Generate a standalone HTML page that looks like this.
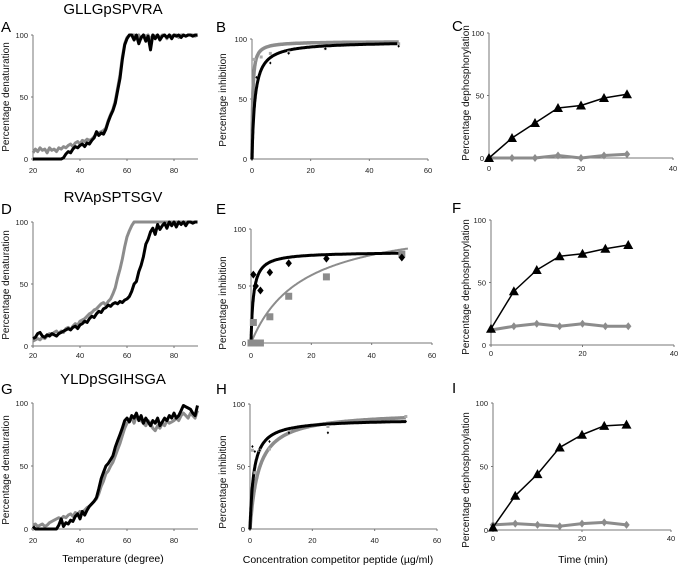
<!DOCTYPE html>
<html><head><meta charset="utf-8">
<style>
html,body{margin:0;padding:0;background:#fff}
svg{display:block;font-family:"Liberation Sans",Arial,sans-serif}
</style></head>
<body>
<svg id="fig" width="680" height="567" viewBox="0 0 680 567" xmlns="http://www.w3.org/2000/svg"></svg>
<script>
// ---- Denaturation data (temperature 20..90 step 1) ----
const tempStart = 20;
const aBlack = [0,0,0,0,0,0,0,0,0,0,0,0,0,1, 4,6,5,8,10,9,11,12,10,13,12,15, 17,22,19,21,20,24,30,35, 39,45,55,65,80,92,97,100,100, 96,100,93,98,100,95,99,88,100,97,100,96,99,100,98,100,97,100,99,100,98,100,99,100,100,99,100,100];
const aGray = [5,8,6,9,7,8,5,9,7,8,6,9,8,10, 9,11,12,10,13,14,12,15,14,16,15,16, 18,20,21,22,23,25,31,36, 40,47,57,68,82,93,98,100,100, 100,98,100,97,100,99,100,96,100,99,100,98,100,100,97,100,99,100,100,98,100,100,99,100,100,100,99,100];
const dBlack = [6,7,10,11,8,7,9,8,10,9,8, 10,11,12,13,14,13,15,16,14,17, 18,20,19,22,24,23,26,28,27,30, 31,33,32,34,35,34,36,35,37,38, 40,44,50,52,60,65,72,82,86,92, 95,90,98,94,97,99,95,100,97,100, 96,100,98,100,97,100,100,99,100,100];
const dGray = [4,5,6,5,7,6,8,10,9,11,12, 10,12,11,14,15,13,16,18,17,20, 21,22,24,26,27,29,30,32,34,35, 33,36,38,42,47,55,62,70,80,88, 93,97,100,100,100,100,100,100,100,100, 100,100,100,100,100,100,100,100,100,100, 100,100,100,100,100,100,100,100,100,100];
const gBlack = [2,0,0,0,0,0,0,0,0,0,0, 3,8,2,5,4,7,6,10,12,8, 14,11,15,18,20,22,25,32,40,45, 50,52,55,58,65,70,75,80,86,88, 85,90,88,92,86,90,84,88,85,82, 86,84,88,82,85,88,86,90,88,92, 88,90,94,98,97,96,95,92,90,98];
const gGray = [3,4,2,3,4,2,3,5,6,7,8, 9,8,10,9,11,12,10,13,12,14, 13,15,17,18,20,22,24,28,34,38, 44,46,50,53,58,63,68,74,80,84, 86,88,84,90,87,86,84,82,86,84, 80,78,82,80,84,82,86,84,85,86, 88,86,90,92,90,88,92,90,88,94];
const tempTicks = [20,40,60,80];

// ---- Inhibition data ----
const bBlackX = [0,1.56,6.25,12.5,25,50];
const bBlackY = [0,68,80,88,92,94];
const bGrayX = [0.78,3.125,6.25,12.5,25,50];
const bGrayY = [83,85,88,89,92,96];
const bBlackFit = [98,1.0];   // [Imax, K]
const bGrayFit = [98,0.25];
const eBlackX = [0.78,1.56,3.125,6.25,12.5,25,50];
const eBlackY = [60,50,46,62,70,74,75];
const eGrayX = [0,0.78,1.56,3.125,6.25,12.5,25,50];
const eGrayY = [0,18,0,0,23,41,58,78];
const eBlackFit = [80,0.8];
const eGrayFit = [110,17];
const hBlackX = [0,0.78,1.56,3.125,6.25,12.5,25,50];
const hBlackY = [0,66,62,63,70,77,77,86];
const hGrayX = [0.78,1.56,3.125,6.25,12.5,25,50];
const hGrayY = [63,45,63,64,78,82,90];
const hBlackFit = [88,1.2];
const hGrayFit = [94,2.8];
const concTicks = [0,20,40,60];

// ---- Dephosphorylation data ----
const timeX = [0,5,10,15,20,25,30];
const cBlack = [0,16,28,40,42,48,51];
const cGray = [0,0,0,2,0,2,3];
const fBlack = [13,43,60,71,73,77,80];
const fGray = [12,15,17,15,17,15,15];
const iBlack = [2,27,44,65,75,82,83];
const iGray = [4,5,4,3,5,6,4];
const timeTicks = [0,20,40];
const yTicks = [0,50,100];

const NS = "http://www.w3.org/2000/svg";
const svg = document.getElementById('fig');
function el(tag, attrs, parent){
  const e = document.createElementNS(NS, tag);
  for (const k in attrs) e.setAttribute(k, attrs[k]);
  (parent||svg).appendChild(e);
  return e;
}
function txt(s, attrs, parent){ const t = el('text', attrs, parent); t.textContent = s; return t; }

function makePanel(p){
  const g = el('g', {});
  
  
  const sx = v => p.px0 + (v - p.xmin) / (p.xmax - p.xmin) * (p.px1 - p.px0);
  const sy = v => p.py0 - (v / 100) * (p.py0 - p.py1);
  const ax = el('line', {x1:p.px0, y1:sy(0), x2:p.axEnd, y2:sy(0), stroke:'#777', 'stroke-width':1}, g);
  
  
  const ay = el('line', {x1:p.px0, y1:sy(0), x2:p.px0, y2:sy(100), stroke:'#777', 'stroke-width':1}, g);
  
  
  p.xticks.forEach(t => {
    el('line', {x1:sx(t), y1:sy(0), x2:sx(t), y2:sy(0)+2, stroke:'#777'}, g);
    const tl = txt(String(t), {x:sx(t), y:p.tickY, 'font-size':7.5, 'text-anchor':'middle', fill:'#222'}, g);
    
    
  });
  yTicks.forEach(t => {
    el('line', {x1:p.px0-2, y1:sy(t), x2:p.px0, y2:sy(t), stroke:'#777'}, g);
    const tl = txt(String(t), {x:p.px0-5, y:sy(t)+3, 'font-size':7.5, 'text-anchor':'end', fill:'#222'}, g);
    
    
  });
  const yl = txt(p.ylabel, {x:0, y:0, 'font-size':10, 'text-anchor':'middle', fill:'#111', transform:`translate(${p.ylx},${p.yly}) rotate(-90)`}, g);
  
  
  const lt = txt(p.letter, {x:p.lx, y:p.ly, 'font-size':15, fill:'#000'}, g);
  
  
  return {g, sx, sy};
}

function trace(P, vals, color, w, name){
  const pts = vals.map((v,i) => P.sx(tempStart+i).toFixed(1)+','+P.sy(v).toFixed(1)).join(' ');
  const l = el('polyline', {points:pts, fill:'none', stroke:color, 'stroke-width':w, 'stroke-linejoin':'round'}, P.g);
  
  
}
function fit(P, params, xEnd, color, w, name){
  const pts = [];
  for (let i=0;i<=300;i++){ const x = xEnd*Math.pow(i/300,2); pts.push(P.sx(x).toFixed(1)+','+P.sy(params[0]*x/(params[1]+x)).toFixed(1)); }
  const l = el('polyline', {points:pts.join(' '), fill:'none', stroke:color, 'stroke-width':w}, P.g);
  
  
}
function marks(P, xs, ys, color, shape, size, name){
  xs.forEach((x,i) => {
    const cx = P.sx(x), cy = P.sy(ys[i]); let m;
    if (shape==='sq') m = el('rect', {x:cx-size, y:cy-size, width:2*size, height:2*size, fill:color}, P.g);
    else if (shape==='tri') m = el('polygon', {points:`${cx},${cy-size} ${cx-size},${cy+size*0.8} ${cx+size},${cy+size*0.8}`, fill:color}, P.g);
    else m = el('polygon', {points:`${cx},${cy-size} ${cx+size*0.8},${cy} ${cx},${cy+size} ${cx-size*0.8},${cy}`, fill:color}, P.g);
    
    
  });
}
function series(P, xs, ys, color, w, shape, size, name){
  const pts = xs.map((x,i)=>P.sx(x)+','+P.sy(ys[i])).join(' ');
  const l = el('polyline', {points:pts, fill:'none', stroke:color, 'stroke-width':w, 'stroke-linejoin':'round'}, P.g);
  
  
  marks(P, xs, ys, color, shape, size, name+'-marker');
}

[['GLLGpSPVRA',14],['RVApSPTSGV',202],['YLDpSGIHSGA',384]].forEach(([s,y])=>{
  const t = txt(s, {x:113, y:y, 'font-size':15, 'text-anchor':'middle', fill:'#000'});
  
  
});

const BLK = '#000', GRY = '#8c8c8c';
const rows = [
  {y0:159, y1:35, ty:173, ly:32, tb:[159,39], tc:[158,33], ylA:97, ylB:100, ylC:93},
  {y0:346, y1:222, ty:358, ly:214, tb:[343,229], tc:[345,220], ylA:285, ylB:303, ylC:287},
  {y0:529, y1:403, ty:543, ly:394, tb:[529,404], tc:[530,403], ylA:470, ylB:482, ylC:480}
];
const letters = [['A','B','C'],['D','E','F'],['G','H','I']];
const den = [[aBlack,aGray],[dBlack,dGray],[gBlack,gGray]];
const inhib = [
  [bBlackX,bBlackY,bGrayX,bGrayY,bBlackFit,bGrayFit,'dot'],
  [eBlackX,eBlackY,eGrayX,eGrayY,eBlackFit,eGrayFit,'big'],
  [hBlackX,hBlackY,hGrayX,hGrayY,hBlackFit,hGrayFit,'dot']
];
const dep = [[cBlack,cGray],[fBlack,fGray],[iBlack,iGray]];
const bX = [[252,428],[251,432],[250,437]];
const cX = [[489,673],[491,674],[493,671]];

rows.forEach((r,ri)=>{
  const A = makePanel({name:'denaturation-panel-'+letters[ri][0].toLowerCase(), px0:33, px1:174, xmin:20, xmax:80, axEnd:198, py0:r.y0, py1:r.y1, xticks:tempTicks, tickY:r.ty, ylabel:'Percentage denaturation', ylx:9, yly:r.ylA, letter:letters[ri][0], lx:1, ly:r.ly});
  trace(A, den[ri][1], GRY, 3, 'gray-melt-curve');
  trace(A, den[ri][0], BLK, 3, 'black-melt-curve');

  const d = inhib[ri];
  const B = makePanel({name:'inhibition-panel-'+letters[ri][1].toLowerCase(), px0:bX[ri][0], px1:bX[ri][1], xmin:0, xmax:60, axEnd:bX[ri][1], py0:r.tb[0], py1:r.tb[1], xticks:concTicks, tickY:r.ty, ylabel:'Percentage inhibition', ylx:226, yly:r.ylB, letter:letters[ri][1], lx:216, ly:r.ly});
  if (d[6]==='big'){
    fit(B, d[5], 52, GRY, 2, 'gray-fit-curve');
    fit(B, d[4], 50, BLK, 3, 'black-fit-curve');
    marks(B, d[2], d[3], GRY, 'sq', 3.5, 'gray-point');
    marks(B, d[0], d[1], BLK, 'dia', 4, 'black-point');
  } else {
    fit(B, d[5], 50, GRY, 3.5, 'gray-fit-curve');
    fit(B, d[4], 50, BLK, 3, 'black-fit-curve');
    marks(B, d[2], d[3], '#aaa', 'sq', 1.5, 'gray-point');
    marks(B, d[0], d[1], BLK, 'dia', 1.5, 'black-point');
  }

  const C = makePanel({name:'dephosphorylation-panel-'+letters[ri][2].toLowerCase(), px0:cX[ri][0], px1:cX[ri][1], xmin:0, xmax:40, axEnd:cX[ri][1], py0:r.tc[0], py1:r.tc[1], xticks:timeTicks, tickY:r.ty-2, ylabel:'Percentage dephosphorylation', ylx:469, yly:r.ylC, letter:letters[ri][2], lx:452, ly:r.ly-1});
  series(C, timeX, dep[ri][1], GRY, 3, 'dia', 4, 'gray-series');
  series(C, timeX, dep[ri][0], BLK, 1.5, 'tri', 5, 'black-series');
});

[['Temperature (degree)',113,562,'x-axis-title-temperature'],['Concentration competitor peptide (µg/ml)',338,563,'x-axis-title-concentration'],['Time (min)',583,563,'x-axis-title-time']].forEach(([s,x,y,n])=>{
  const t = txt(s, {x:x, y:y, 'font-size':10.5, 'text-anchor':'middle', fill:'#000'});
  
  
});
</script>
</body></html>
